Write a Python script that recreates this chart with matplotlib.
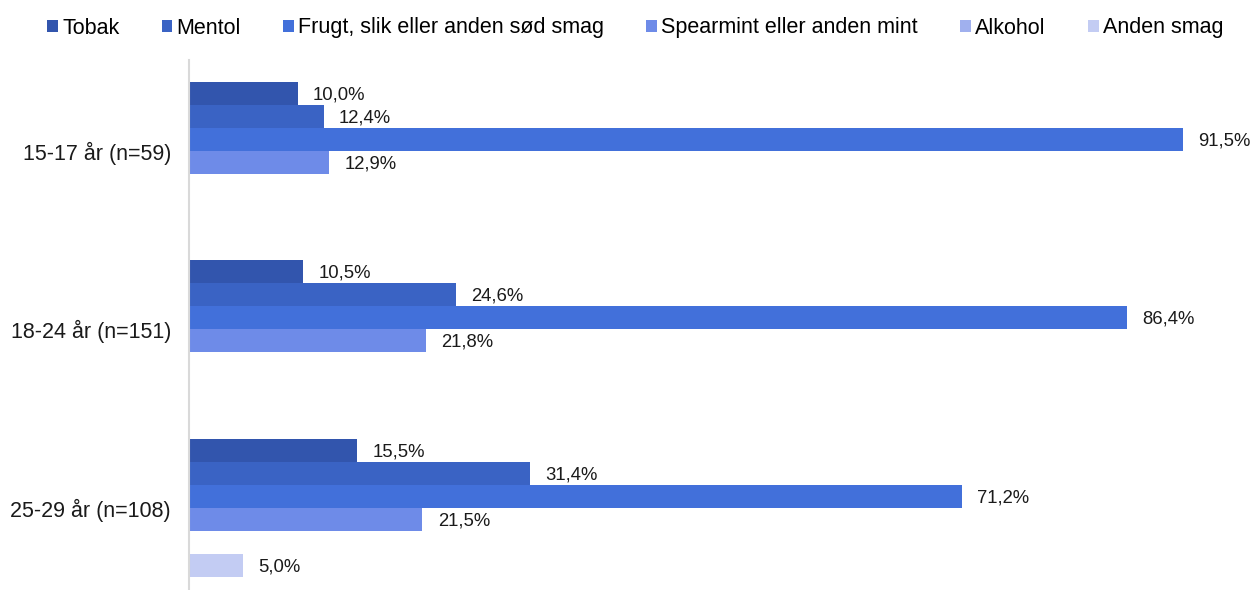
import numpy as np
import matplotlib.pyplot as plt

plt.rcParams['font.family'] = ['Liberation Sans', 'DejaVu Sans']

groups = ["15-17 år (n=59)", "18-24 år (n=151)", "25-29 år (n=108)"]
series = ["Tobak", "Mentol", "Frugt, slik eller anden sød smag",
          "Spearmint eller anden mint", "Alkohol", "Anden smag"]
colors = ["#3255AD", "#3A63C4", "#4270DA", "#6E8BE8", "#A0B0EE", "#C3CCF3"]

tobak = [10.0, 10.5, 15.5]
mentol = [12.4, 24.6, 31.4]
frugt = [91.5, 86.4, 71.2]
spearmint = [12.9, 21.8, 21.5]
alkohol = [np.nan, np.nan, np.nan]
anden = [np.nan, np.nan, 5.0]
values = [tobak, mentol, frugt, spearmint, alkohol, anden]


def fmt(v):
    return f"{v:.1f}".replace(".", ",") + "%"


fig = plt.figure(figsize=(12.54, 5.9), dpi=100)
ax = fig.add_axes([189 / 1254, 0, 1 - 189 / 1254, 530 / 590])

h = 23 / 178.5
y = np.arange(len(groups))
for i, (name, vals, c) in enumerate(zip(series, values, colors)):
    pos = y + (i - 2.5) * h
    v = np.array(vals, dtype=float)
    ax.barh(pos, np.nan_to_num(v), height=h, color=c, label=name)
    for p, val in zip(pos, v):
        if not np.isnan(val):
            ax.text(val + 1.4, p + 0.01, fmt(val), va="center", ha="left",
                    fontsize=13.3, color="#1a1a1a")

ax.set_xlim(0, (1254 - 189) / 10.86)
ax.set_ylim(2.46, -0.507)
ax.set_yticks(y)
ax.set_yticklabels(groups, fontsize=15.5, color="#1a1a1a")
ax.tick_params(axis="y", length=0, pad=13)
ax.set_xticks([])
for s in ["top", "right", "bottom"]:
    ax.spines[s].set_visible(False)
ax.spines["left"].set_color("#D9D9D9")
ax.spines["left"].set_linewidth(1.5)

fig.legend(loc="center left", bbox_to_anchor=(47 / 1254, 1 - 28 / 590), ncol=6,
           frameon=False, fontsize=15.5, handlelength=0.51, handleheight=0.51,
           handletextpad=0.19, columnspacing=1.96, borderaxespad=0, borderpad=0)

fig.savefig("out.png", dpi=100)
